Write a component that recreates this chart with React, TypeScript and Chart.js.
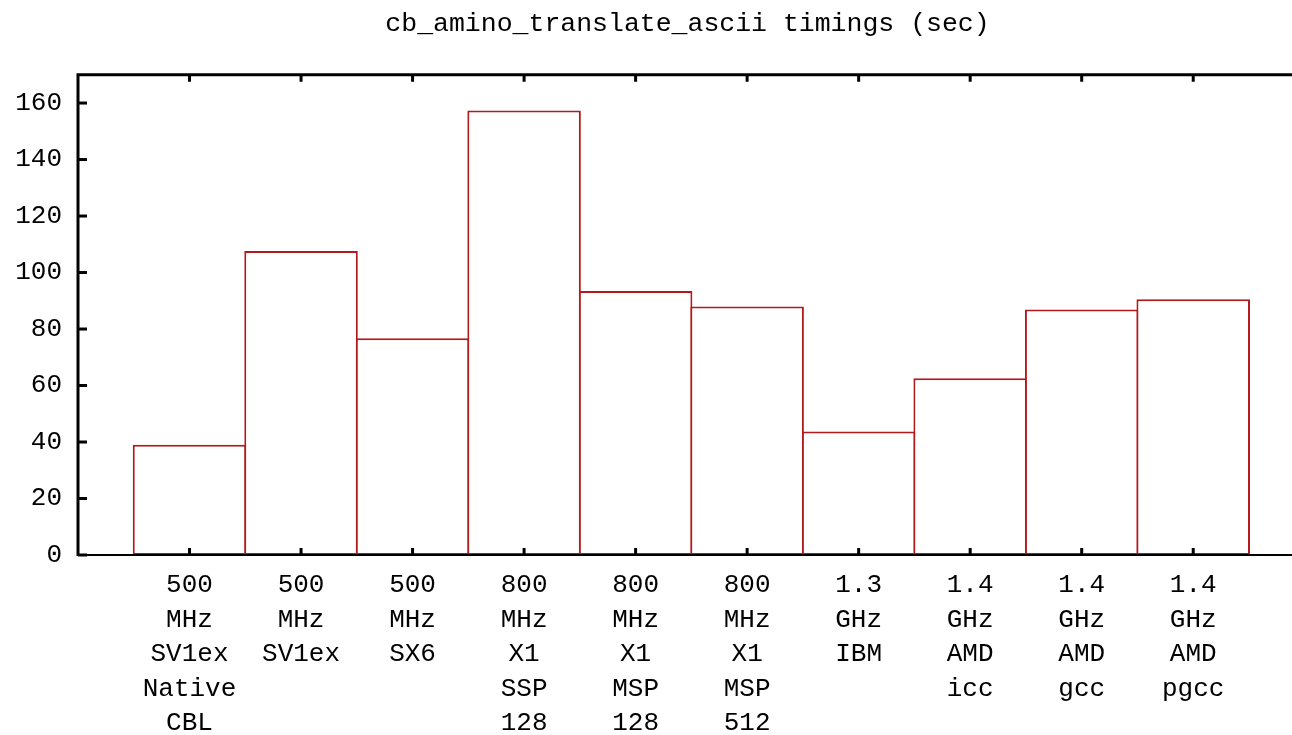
import React, { useEffect, useRef } from 'react';
import { Chart, registerables } from 'chart.js';

Chart.register(...registerables);

const TITLE = 'cb_amino_translate_ascii timings (sec)';

const CATEGORY_LABELS: string[][] = [
  ['500', 'MHz', 'SV1ex', 'Native', 'CBL'],
  ['500', 'MHz', 'SV1ex'],
  ['500', 'MHz', 'SX6'],
  ['800', 'MHz', 'X1', 'SSP', '128'],
  ['800', 'MHz', 'X1', 'MSP', '128'],
  ['800', 'MHz', 'X1', 'MSP', '512'],
  ['1.3', 'GHz', 'IBM'],
  ['1.4', 'GHz', 'AMD', 'icc'],
  ['1.4', 'GHz', 'AMD', 'gcc'],
  ['1.4', 'GHz', 'AMD', 'pgcc'],
];

const TIMINGS: number[] = [39, 107.6, 76.7, 157.4, 93.5, 88.0, 43.7, 62.6, 86.9, 90.5];

const Y_MIN = 0;
const Y_MAX = 170;
const Y_STEP = 20;
const X_MIN = -1;
const X_MAX = 10.63;

const FONT = "'Liberation Mono', 'DejaVu Sans Mono', monospace";
const BAR_RED = '#b3191c';

const framePlugin = {
  id: 'gnuplotFrame',
  afterDatasetsDraw(chart: any) {
    const { ctx, chartArea, scales } = chart;
    const { left, top, bottom } = chartArea;
    const right = chart.width;
    ctx.save();
    ctx.strokeStyle = '#000';
    ctx.lineCap = 'butt';
    // bottom axis line
    ctx.lineWidth = 2;
    ctx.beginPath();
    ctx.moveTo(left, bottom);
    ctx.lineTo(right, bottom);
    ctx.stroke();
    // left + top border
    ctx.lineWidth = 3;
    ctx.beginPath();
    ctx.moveTo(left, bottom + 1);
    ctx.lineTo(left, top);
    ctx.lineTo(right, top);
    ctx.stroke();
    // y tick marks (inward)
    const ys = scales.y;
    ctx.lineWidth = 3;
    ys.ticks.forEach((t: any) => {
      const py = ys.getPixelForValue(t.value);
      ctx.beginPath();
      ctx.moveTo(left, py);
      ctx.lineTo(left + 9, py);
      ctx.stroke();
    });
    // x tick marks (bottom and mirrored top)
    const xs = scales.x;
    ctx.lineWidth = 3;
    CATEGORY_LABELS.forEach((_, i) => {
      const px = xs.getPixelForValue(i);
      ctx.beginPath();
      ctx.moveTo(px, bottom);
      ctx.lineTo(px, bottom - 7);
      ctx.moveTo(px, top);
      ctx.lineTo(px, top + 7);
      ctx.stroke();
    });
    ctx.restore();
  },
};

export default function App() {
  const canvasRef = useRef<HTMLCanvasElement | null>(null);

  useEffect(() => {
    const canvas = canvasRef.current;
    if (!canvas) return;
    const chart = new Chart(canvas, {
      type: 'bar',
      data: {
        datasets: [
          {
            label: 'timings',
            data: TIMINGS.map((v, i) => ({ x: i, y: v })),
            backgroundColor: '#ffffff',
            borderColor: BAR_RED,
            borderWidth: 2,
            borderSkipped: false,
            barPercentage: 1.018,
            categoryPercentage: 1,
          } as any,
        ],
      },
      options: {
        responsive: false,
        animation: false,
        devicePixelRatio: 1,
        layout: { padding: { left: 0, right: 0, top: 0, bottom: 0 } },
        plugins: {
          legend: { display: false },
          tooltip: { enabled: false },
          title: {
            display: true,
            text: TITLE,
            color: '#000',
            font: { family: FONT, size: 26.5, weight: 'normal', lineHeight: 1.2 },
            padding: { top: 8, bottom: 35 },
          },
        },
        scales: {
          x: {
            type: 'linear',
            min: X_MIN,
            max: X_MAX,
            offset: false,
            grid: { display: false, drawTicks: false, tickLength: 0 },
            border: { display: false },
            afterFit: (scale: any) => {
              scale.height = 180;
            },
            ticks: {
              stepSize: 1,
              includeBounds: false,
              autoSkip: false,
              maxTicksLimit: 30,
              maxRotation: 0,
              minRotation: 0,
              padding: 13,
              color: '#000',
              font: { family: FONT, size: 26, lineHeight: '34.5px' },
              callback: (value: any) => {
                const i = Number(value);
                return Number.isInteger(i) && CATEGORY_LABELS[i] ? CATEGORY_LABELS[i] : '';
              },
            },
          },
          y: {
            type: 'linear',
            min: Y_MIN,
            max: Y_MAX,
            grid: { display: false, drawTicks: false, tickLength: 0 },
            border: { display: false },
            afterFit: (scale: any) => {
              scale.width = 78;
            },
            ticks: {
              stepSize: Y_STEP,
              includeBounds: false,
              padding: 16,
              color: '#000',
              font: { family: FONT, size: 26 },
            },
          },
        },
      } as any,
      plugins: [framePlugin],
    });
    return () => chart.destroy();
  }, []);

  return (
    <div
      style={{
        position: 'fixed',
        left: 0,
        top: 0,
        width: 1292,
        height: 735,
        overflow: 'hidden',
        background: '#fff',
      }}
    >
      <canvas ref={canvasRef} width={1375} height={735} style={{ width: 1375, height: 735, display: 'block' }} />
    </div>
  );
}
